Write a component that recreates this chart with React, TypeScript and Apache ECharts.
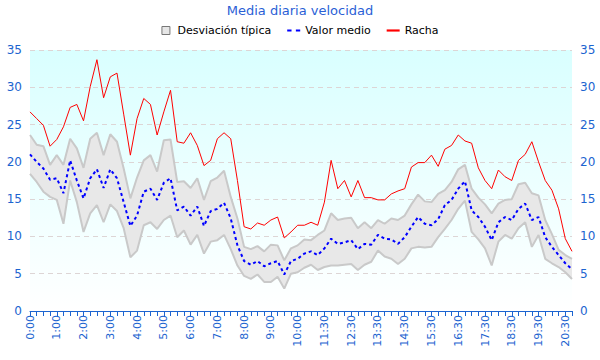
import React, { useEffect, useRef } from "react";
import * as echarts from "echarts";

const categories = [
  "0:00","0:15","0:30","0:45","1:00","1:15","1:30","1:45","2:00","2:15",
  "2:30","2:45","3:00","3:15","3:30","3:45","4:00","4:15","4:30","4:45",
  "5:00","5:15","5:30","5:45","6:00","6:15","6:30","6:45","7:00","7:15",
  "7:30","7:45","8:00","8:15","8:30","8:45","9:00","9:15","9:30","9:45",
  "10:00","10:15","10:30","11:15","11:30","11:45","12:00","12:15","12:30","12:45",
  "13:00","13:15","13:30","13:45","14:00","14:15","14:30","14:45","15:00","15:15",
  "15:30","15:45","16:00","16:15","16:30","16:45","17:00","17:15","17:30","17:45",
  "18:00","18:15","18:30","18:45","19:00","19:15","19:30","19:45","20:00","20:15",
  "20:30","20:45"
];

const racha = [
  26.7, 25.8, 24.9, 22.1, 23.0, 24.7, 27.3, 27.7, 25.5, 30.1,
  33.7, 28.6, 31.4, 31.9, 26.4, 20.9, 25.8, 28.5, 27.7, 23.6,
  26.7, 29.6, 22.7, 22.5, 23.9, 22.2, 19.5, 20.2, 23.1, 23.9,
  23.1, 17.5, 11.3, 11.0, 11.8, 11.5, 12.2, 12.6, 9.8, 10.6,
  11.5, 11.5, 11.9, 11.5, 14.6, 20.2, 16.4, 17.5, 15.3, 17.5,
  15.2, 15.2, 14.9, 14.9, 15.7, 16.1, 16.4, 19.3, 19.9, 19.9,
  20.9, 19.4, 21.7, 22.2, 23.6, 22.8, 22.5, 19.2, 17.5, 16.4,
  18.9, 18.0, 17.5, 20.2, 21.0, 22.7, 20.0, 17.5, 16.2, 13.7,
  9.7, 8.0
];

const valorMedio = [
  21.0, 20.0, 19.1, 17.6, 17.8, 15.8, 20.2, 17.5, 15.1, 17.8,
  19.0, 16.5, 19.0, 17.8, 14.6, 11.4, 12.8, 16.0, 16.4, 14.9,
  17.2, 17.8, 13.5, 14.0, 12.8, 14.0, 11.4, 13.4, 13.7, 14.5,
  12.4, 8.8, 6.7, 6.2, 6.7, 6.0, 6.4, 6.7, 4.9, 6.7,
  7.0, 7.7, 8.0, 7.5, 8.4, 9.7, 9.0, 9.2, 9.5, 8.3,
  9.0, 8.9, 10.2, 9.7, 9.6, 9.0, 9.9, 11.3, 12.6, 11.7,
  11.5, 12.3, 14.2, 14.9, 16.4, 17.4, 13.5, 12.6, 11.3, 9.5,
  11.9, 12.6, 12.2, 13.7, 14.4, 12.2, 12.6, 9.9, 8.6, 7.5,
  6.4, 5.6
];

const desvSuperior = [
  23.6, 22.3, 22.1, 19.6, 20.9, 19.6, 23.1, 21.8, 19.2, 23.1,
  23.9, 20.9, 23.7, 22.7, 19.1, 15.1, 17.9, 20.2, 20.9, 18.7,
  22.9, 23.0, 17.3, 17.4, 16.5, 17.8, 14.9, 17.4, 17.9, 18.8,
  15.3, 12.4, 8.6, 8.3, 8.7, 8.0, 8.9, 8.8, 6.8, 8.4,
  8.8, 9.6, 9.5, 10.2, 10.8, 13.1, 12.2, 12.4, 12.5, 11.1,
  11.9, 11.1, 12.2, 11.7, 12.4, 12.2, 12.8, 14.3, 15.6, 14.7,
  14.6, 15.7, 16.2, 17.3, 19.0, 19.6, 16.4, 15.2, 14.3, 13.1,
  14.4, 14.9, 15.0, 17.0, 17.2, 15.8, 15.5, 12.2, 10.3, 8.2,
  7.5, 7.0
];

const desvInferior = [
  18.4, 17.3, 16.0, 15.3, 14.9, 11.7, 17.5, 14.6, 10.6, 13.1,
  14.2, 11.9, 14.3, 13.4, 11.1, 7.2, 8.1, 11.5, 11.9, 11.0,
  12.2, 12.8, 9.9, 10.8, 8.9, 10.2, 7.7, 9.3, 9.5, 10.2,
  8.3, 6.1, 4.7, 4.3, 4.9, 3.9, 3.9, 4.6, 3.0, 5.0,
  5.2, 5.8, 6.2, 5.5, 5.9, 6.1, 6.1, 6.2, 6.3, 5.5,
  6.2, 6.6, 8.1, 7.3, 7.0, 6.3, 7.0, 8.4, 8.6, 8.5,
  8.6, 9.9, 11.0, 12.2, 13.7, 14.8, 10.6, 9.6, 8.4, 6.1,
  9.3, 10.2, 9.7, 11.1, 11.9, 8.6, 10.2, 7.0, 6.4, 5.9,
  5.2, 4.3
];

const yTicks = { min: 0, max: 35, interval: 5 };

const FONT = "DejaVu Sans";
const AXIS_BLUE = "#1c64d0";

export default function App() {
  const ref = useRef<HTMLDivElement>(null);

  useEffect(() => {
    if (!ref.current) return;
    const chart = echarts.init(ref.current, null, { renderer: "svg" });
    const bandWidth = desvSuperior.map((u, i) => +(u - desvInferior[i]).toFixed(2));

    const yAxisBase = (position: "left" | "right", showSplit: boolean) => ({
      type: "value" as const,
      position,
      min: yTicks.min,
      max: yTicks.max,
      interval: yTicks.interval,
      axisLine: { show: false },
      axisTick: { show: false },
      axisLabel: { color: AXIS_BLUE, fontSize: 12, fontFamily: FONT, margin: 8 },
      splitLine: showSplit
        ? { show: true, lineStyle: { color: "#ddd5d5", type: [5, 4], width: 1 } }
        : { show: false },
    });

    chart.setOption({
      animation: false,
      backgroundColor: "#ffffff",
      textStyle: { fontFamily: FONT },
      title: {
        text: "Media diaria velocidad",
        left: "center",
        top: 4,
        padding: 0,
        textStyle: { color: "#2a5fd6", fontSize: 13, fontWeight: "normal", fontFamily: FONT },
      },
      legend: {
        top: 25,
        left: "center",
        padding: 0,
        itemWidth: 13,
        itemHeight: 8,
        itemGap: 16,
        textStyle: { color: "#000", fontSize: 11, fontFamily: FONT },
        data: [
          {
            name: "Desviación típica",
            icon: "path://M0,0H10V10H0Z",
            itemStyle: { color: "#e6e6e6", borderColor: "#777", borderWidth: 1 },
          },
          {
            name: "Valor medio",
            icon: "path://M0,0H4V2H0Z M8,0H12V2H8Z",
            itemStyle: { color: "#0000ff", borderWidth: 0 },
          },
          {
            name: "Racha",
            icon: "path://M0,0H12V2H0Z",
            itemStyle: { color: "#ff0000", borderWidth: 0 },
          },
        ],
      },
      grid: {
        left: 30,
        right: 28,
        top: 50,
        bottom: 49,
        show: true,
        borderWidth: 0,
        backgroundColor: new echarts.graphic.LinearGradient(0, 0, 0, 1, [
          { offset: 0, color: "#d9ffff" },
          { offset: 1, color: "#ffffff" },
        ]),
      },
      xAxis: {
        type: "category",
        data: categories,
        boundaryGap: false,
        axisLine: { show: true, lineStyle: { color: AXIS_BLUE, width: 1 } },
        axisTick: { show: true, interval: 0, length: 5, lineStyle: { color: AXIS_BLUE } },
        axisLabel: {
          interval: 3,
          rotate: 90,
          color: AXIS_BLUE,
          fontSize: 11,
          fontFamily: FONT,
          margin: 4,
        },
        splitLine: { show: false },
      },
      yAxis: [yAxisBase("left", true), yAxisBase("right", false)],
      series: [
        {
          name: "lower",
          type: "line",
          stack: "band",
          data: desvInferior,
          symbol: "none",
          lineStyle: { color: "#c9c9c9", width: 2 },
          itemStyle: { color: "#c9c9c9" },
          z: 2,
        },
        {
          name: "Desviación típica",
          type: "line",
          stack: "band",
          data: bandWidth,
          symbol: "none",
          lineStyle: { color: "#c9c9c9", width: 2 },
          itemStyle: { color: "#e6e6e6" },
          areaStyle: { color: "#e8e8e8", opacity: 1 },
          z: 1,
        },
        {
          name: "Valor medio",
          type: "line",
          data: valorMedio,
          symbol: "none",
          lineStyle: { color: "#0000ff", width: 2, type: [3, 3] },
          itemStyle: { color: "#0000ff" },
          z: 3,
        },
        {
          name: "Racha",
          type: "line",
          data: racha,
          symbol: "none",
          lineStyle: { color: "#ff0000", width: 1 },
          itemStyle: { color: "#ff0000" },
          z: 4,
        },
      ],
    });

    return () => chart.dispose();
  }, []);

  return (
    <div
      ref={ref}
      style={{ position: "absolute", left: 0, top: 0, width: 600, height: 360 }}
    />
  );
}
